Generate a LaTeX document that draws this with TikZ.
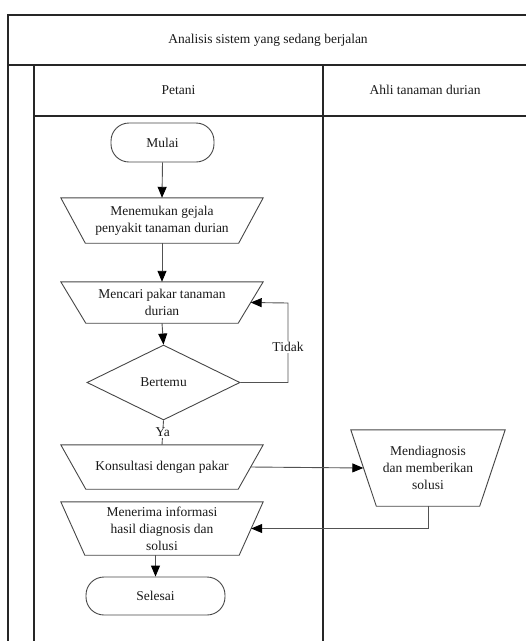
\documentclass[tikz,border=0pt]{standalone}
\usepackage{fontspec}
\setmainfont{Liberation Serif}
\usetikzlibrary{arrows.meta,shapes.geometric,calc}
\begin{document}
\begin{tikzpicture}[x=1pt,y=-1pt,
  every node/.style={font=\fontsize{13.5}{17}\selectfont, text=black!90},
  frameline/.style={draw=black!85, line width=1.1pt},
  shapeline/.style={draw=black!72, line width=0.9pt},
  term/.style={shapeline, rectangle, rounded corners=18pt, inner sep=0pt},
  manbox/.style={rectangle, draw=none, inner sep=0pt, align=center},
  decbox/.style={shapeline, diamond, inner sep=0pt},
  conn/.style={draw=black!68, line width=0.9pt},
  arr/.style={conn, -{Triangle[length=11pt,width=9pt,color=black]}},
  lbl/.style={fill=white, inner sep=1pt}
]
\useasboundingbox (0,0) rectangle (526,641);
% pool and lanes
\draw[frameline] (8,660) -- (8,15) -- (530,15);
\draw[frameline] (8,65) -- (530,65);
\draw[frameline] (34,116) -- (530,116);
\draw[frameline] (34,65) -- (34,660);
\draw[frameline] (323,65) -- (323,660);
\draw[frameline] (527,15) -- (527,660);
\node (title) at (268,40) {Analisis sistem yang sedang berjalan};
\node (petani) at (178.5,90) {Petani};
\node (ahli) at (425,90) {Ahli tanaman durian};
% nodes
\node[term, minimum width=103pt, minimum height=39pt] (mulai) at (162.5,142.5) {Mulai};
\node[manbox, minimum width=202pt, minimum height=45pt] (t1) at (162,220.5) {Menemukan gejala\\penyakit tanaman durian};
\node[manbox, minimum width=202pt, minimum height=41pt] (t2) at (162,302.5) {Mencari pakar tanaman\\durian};
\node[decbox, minimum width=153pt, minimum height=75pt] (dec) at (163.5,382.5) {Bertemu};
\node[manbox, minimum width=202pt, minimum height=44pt] (t3) at (162,467) {Konsultasi dengan pakar};
\node[manbox, minimum width=154pt, minimum height=76pt] (diag) at (428,468) {Mendiagnosis\\dan memberikan\\solusi};
\node[manbox, minimum width=202pt, minimum height=53pt] (t4) at (162,528.5) {Menerima informasi\\hasil diagnosis dan\\solusi};
\node[term, minimum width=139pt, minimum height=38pt] (selesai) at (155.5,596) {Selesai};
% trapezoid outlines
\foreach \n/\o in {t1/24.5,t2/25,t3/25,t4/24,diag/25.5}{
  \draw[shapeline] (\n.north west) -- (\n.north east) -- ([xshift=-\o]\n.south east) -- ([xshift=\o]\n.south west) -- cycle;
}
% connectors
\coordinate (tk) at (288,303);
\draw[arr] (mulai.south) -- (t1.north);
\draw[arr] (t1.south) -- (t2.north);
\draw[arr] (t2.south) -- (dec.north);
\draw[conn] (dec.south) -- node[lbl] (ya) {Ya} (t3.north);
\draw[arr] (dec.east) -| (tk) -- ([xshift=-12.5pt]t2.east);
\node[lbl] (tidak) at (288,347) {Tidak};
\draw[arr] ([xshift=-12.5pt]t3.east) -- ([xshift=12.5pt]diag.west);
\draw[arr] (diag.south) |- ([xshift=-12pt]t4.east);
\draw[arr] (selesai.north |- t4.south) -- (selesai.north);
\end{tikzpicture}
\end{document}
